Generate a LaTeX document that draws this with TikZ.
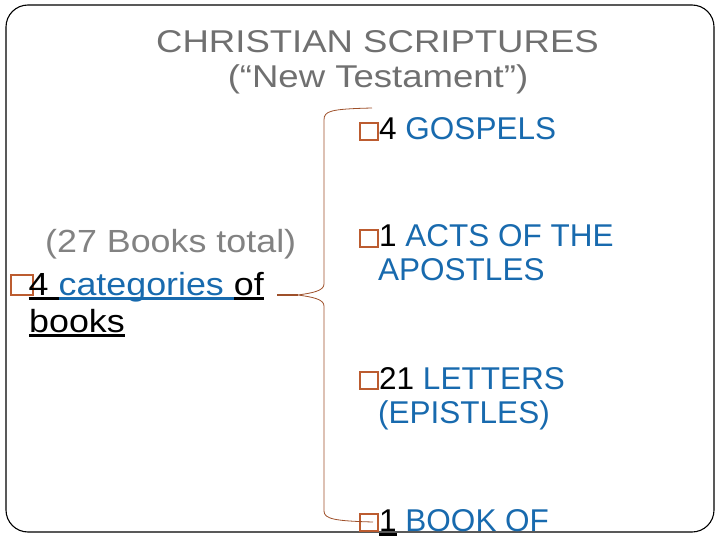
\documentclass[tikz,border=0pt]{standalone}
\usepackage{fontspec}
\setmainfont{Liberation Sans}
\newfontfamily\titlefont[FakeStretch=1.16]{Liberation Sans}
\newfontfamily\leftfont[FakeStretch=1.12]{Liberation Sans}
\usetikzlibrary{positioning}

\definecolor{nblue}{RGB}{24,106,174}
\definecolor{tgray}{RGB}{112,112,112}
\definecolor{lgray}{RGB}{130,130,130}
\definecolor{bracec}{RGB}{158,80,42}
\definecolor{boxc}{RGB}{188,92,48}

% missing-glyph box: width, height, advance (pt)
\newcommand\bx[3]{\rlap{\raisebox{1pt}{\color{boxc}\setlength\fboxsep{0pt}\setlength\fboxrule{2pt}\fbox{\rule{0pt}{#2pt}\hspace{#1pt}}}}\hspace{#3pt}}
% coloured underline
\newcommand\uln[2]{\setbox0\hbox{#2}\rlap{\color{#1}\rule[-5pt]{\wd0}{2.6pt}}\box0\relax}

\begin{document}
\begin{tikzpicture}[x=1pt,y=-1pt,
	txt/.style={inner sep=0pt,anchor=base west},
	ttl/.style={inner sep=0pt,anchor=base,text=tgray,font=\titlefont\fontsize{31.5}{35}\selectfont},
	lft/.style={txt,font=\leftfont\fontsize{32}{37}\selectfont},
	rgt/.style={txt,font=\fontsize{31.5}{34}\selectfont,text=nblue}]
	\useasboundingbox (0,0) rectangle (720,540);
	\draw[line width=1.1pt,rounded corners=22pt] (6,5) rectangle (714,532);

	\node[ttl] (title) at (377.5,53) {CHRISTIAN SCRIPTURES};
	\node[ttl] (subtitle) at (378,88) {(“New Testament”)};

	\node[lft,text=lgray] (total) at (45,252) {(27 Books total)};
	\node[lft] (cats) at (10,295) {\bx{20}{18}{18.5}\uln{black}{4 }\uln{nblue}{\textcolor{nblue}{categories }}\uln{black}{of}};
	\node[lft] (books) at (29,332) {\uln{black}{books}};

	\node[rgt] (gosp) at (359,140) {\bx{16}{15}{20}\textcolor{black}{4} GOSPELS};
	\node[rgt] (acts) at (359,247) {\bx{16}{15}{20}\textcolor{black}{1} ACTS OF THE};
	\node[rgt] (acts2) at (378,280) {APOSTLES};
	\node[rgt] (lett) at (359,389) {\bx{16}{15}{20}\textcolor{black}{21} LETTERS};
	\node[rgt] (lett2) at (378,423) {(EPISTLES)};
	\node[rgt] (rev) at (359,531) {\bx{16}{15}{20}\uln{black}{\textcolor{black}{1}} BOOK OF};

	% brace
	\draw[bracec,line width=1.3pt] (277,295) -- (298,295);
	\draw[bracec,line width=0.8pt] (372,108) .. controls (330,109) and (324,111) .. (324,120)
		-- (324,284) .. controls (324,291) and (312,293) .. (298,295)
		.. controls (312,297) and (324,299) .. (324,306)
		-- (324,511) .. controls (324,519) and (335,521) .. (373,522);
\end{tikzpicture}
\end{document}
